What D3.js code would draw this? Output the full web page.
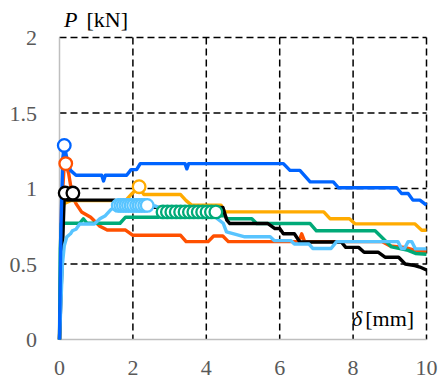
<!DOCTYPE html>
<html>
<head>
<meta charset="utf-8">
<script src="https://cdn.jsdelivr.net/npm/d3@7"></script>
<style>
  body { margin: 0; background: #fff; }
  svg { display: block; }
</style>
</head>
<body>
<figure id="chart" style="margin:0"></figure>
<script>
// tick values
const xTicks = [0, 2, 4, 6, 8, 10];
const yTicks = [0, 0.5, 1, 1.5, 2];
const yTickLabels = ["0", "0.5", "1", "1.5", "2"];

// load-displacement curves [delta mm, P kN]
const red = [[0,0],[0.06,0.9],[0.12,1.12],[0.17,1.165],[0.25,1.1],[0.35,0.95],[0.45,0.9],[0.6,0.845],[0.85,0.81],[1.1,0.75],[1.3,0.725],[1.8,0.725],[2.0,0.69],[3.3,0.69],[3.45,0.648],[4.05,0.648],[4.2,0.685],[4.45,0.685],[4.6,0.648],[6.52,0.648],[6.6,0.7],[6.68,0.648],[8.8,0.648],[9.0,0.62],[9.4,0.61],[9.7,0.59],[10,0.58]];
const orange = [[0,0],[0.06,0.8],[0.12,0.9],[0.3,0.92],[1.8,0.92],[1.95,0.96],[2.17,1.01],[2.3,0.96],[3.3,0.96],[3.45,0.92],[3.6,0.89],[4.4,0.89],[4.5,0.845],[7.2,0.845],[7.37,0.8],[7.9,0.8],[8.05,0.766],[9.68,0.766],[9.87,0.724],[10,0.724]];
const green = [[0,0],[0.02,0.6],[0.05,0.77],[0.55,0.77],[0.65,0.8],[0.75,0.77],[1.65,0.77],[1.8,0.81],[2.7,0.81],[2.8,0.82],[4.5,0.82],[4.56,0.8],[5.24,0.8],[5.37,0.768],[6.83,0.768],[7.0,0.72],[8.6,0.72],[9.05,0.613],[9.5,0.59],[9.7,0.57],[10,0.565]];
const black = [[0,0],[0.13,0.96],[0.2,0.923],[1.5,0.923],[1.6,0.875],[4.45,0.875],[4.56,0.79],[4.64,0.768],[5.68,0.768],[5.87,0.735],[6.0,0.735],[6.1,0.7],[6.4,0.7],[6.55,0.646],[7.68,0.646],[7.8,0.61],[8.15,0.61],[8.3,0.578],[8.68,0.578],[8.87,0.545],[9.24,0.545],[9.42,0.5],[9.68,0.49],[9.82,0.48],[10,0.46]];
const lightBlue = [[0,0],[0.08,0.5],[0.13,0.62],[0.2,0.68],[0.3,0.7],[0.35,0.72],[0.45,0.73],[0.55,0.765],[0.95,0.765],[1.1,0.8],[1.25,0.82],[1.4,0.86],[1.55,0.885],[2.6,0.885],[2.7,0.875],[4.15,0.875],[4.3,0.8],[4.46,0.77],[4.55,0.713],[5.05,0.68],[5.74,0.68],[5.85,0.655],[6.3,0.655],[6.4,0.632],[6.8,0.632],[6.9,0.603],[7.4,0.603],[7.55,0.648],[9.22,0.648],[9.32,0.603],[9.4,0.603],[9.5,0.648],[9.6,0.648],[9.7,0.6],[10,0.6]];
const blue = [[0,0],[0.04,0.75],[0.09,1.2],[0.13,1.285],[0.2,1.2],[0.3,1.12],[0.45,1.088],[1.15,1.088],[1.2,1.05],[1.25,1.088],[1.83,1.088],[1.95,1.125],[2.1,1.125],[2.2,1.165],[3.42,1.165],[3.47,1.13],[3.52,1.165],[6.1,1.165],[6.28,1.12],[6.55,1.12],[6.83,1.044],[7.46,1.044],[7.6,1.005],[9.19,1.005],[9.32,0.967],[9.5,0.967],[9.63,0.923],[9.82,0.923],[10,0.89]];

// circle markers on the curves
const blueMarks = [[0.13,1.285]];
const redMarks = [[0.17,1.165]];
const orangeMarks = [[2.17,1.012]];
const blackMarks = [[0.155,0.97],[0.365,0.97]];
const lightBlueMarks = [[1.6,0.888],[1.67,0.888],[1.74,0.888],[1.81,0.888],[1.88,0.888],[1.95,0.888],[2.02,0.888],[2.1,0.888],[2.17,0.888],[2.24,0.888],[2.32,0.888],[2.39,0.888]];
const greenMarks = [[2.82,0.845],[2.94,0.845],[3.06,0.845],[3.18,0.845],[3.3,0.845],[3.42,0.845],[3.54,0.845],[3.66,0.845],[3.78,0.845],[3.9,0.845],[4.02,0.845],[4.14,0.845],[4.26,0.845]];

const W = 444, H = 381;
const plotLeft = 59.5, plotRight = 426.5, plotTop = 37.5, plotBottom = 339.5;
const serif = '"Liberation Serif"';

const svg = d3.select("figure#chart")
  .append("svg")
  .attr("width", W)
  .attr("height", H);

const x = d3.scaleLinear().domain([0, 10]).range([plotLeft, plotRight]);
const y = d3.scaleLinear().domain([0, 2]).range([plotBottom, plotTop]);

// dashed grid
svg.append("g").selectAll("line")
  .data(yTicks.filter(d => d > 0))
  .enter().append("line")
  .attr("x1", plotLeft).attr("x2", plotRight)
  .attr("y1", d => y(d)).attr("y2", d => y(d))
  .attr("stroke", "#000").attr("stroke-width", 1.5)
  .attr("stroke-dasharray", "7,4");

svg.append("g").selectAll("line")
  .data(xTicks.filter(d => d > 0))
  .enter().append("line")
  .attr("x1", d => x(d)).attr("x2", d => x(d))
  .attr("y1", plotTop).attr("y2", plotBottom)
  .attr("stroke", "#000").attr("stroke-width", 1.5)
  .attr("stroke-dasharray", "7,4");

// grey axes
svg.append("line")
  .attr("x1", plotLeft).attr("x2", plotLeft).attr("y1", plotTop).attr("y2", plotBottom)
  .attr("stroke", "#bfbfbf").attr("stroke-width", 1.5);
svg.append("line")
  .attr("x1", plotLeft).attr("x2", plotRight).attr("y1", plotBottom).attr("y2", plotBottom)
  .attr("stroke", "#bfbfbf").attr("stroke-width", 1.5);

// tick labels
svg.append("g").selectAll("text")
  .data(yTicks)
  .enter().append("text")
  .attr("x", 37)
  .attr("y", d => y(d))
  .attr("dy", "0.35em")
  .attr("text-anchor", "end")
  .attr("font-size", 22)
  .style("font-family", serif)
  .attr("fill", "#595959")
  .text((d, i) => yTickLabels[i]);

svg.append("g").selectAll("text")
  .data(xTicks)
  .enter().append("text")
  .attr("x", d => x(d))
  .attr("y", 367)
  .attr("dy", "0.35em")
  .attr("text-anchor", "middle")
  .attr("font-size", 22)
  .style("font-family", serif)
  .attr("fill", "#595959")
  .text(d => d);

// axis titles
const pt = svg.append("text")
  .attr("x", 64).attr("y", 27)
  .attr("font-size", 22).style("font-family", serif).attr("fill", "#000");
pt.append("tspan").attr("font-style", "italic").text("P");
pt.append("tspan").attr("dx", 9).text("[kN]");

const dt = svg.append("text")
  .attr("x", 352).attr("y", 326)
  .attr("font-size", 22).style("font-family", serif).attr("fill", "#000");
dt.append("tspan").attr("font-style", "italic").text("δ");
dt.append("tspan").attr("dx", 3).text("[mm]");

// curves
const line = d3.line().x(d => x(d[0])).y(d => y(d[1]));
const series = [
  { data: red, color: "#ff5000", marks: redMarks },
  { data: orange, color: "#ffab00", marks: orangeMarks },
  { data: green, color: "#00aa78", marks: greenMarks },
  { data: black, color: "#000000", marks: blackMarks },
  { data: lightBlue, color: "#58c4ff", marks: lightBlueMarks },
  { data: blue, color: "#0064ff", marks: blueMarks }
];

series.forEach(s => {
  svg.append("path")
    .attr("d", line(s.data))
    .attr("fill", "none")
    .attr("stroke", s.color)
    .attr("stroke-width", 3.4)
    .attr("stroke-linejoin", "round");
});

series.forEach(s => {
  svg.append("g").selectAll("circle")
    .data(s.marks)
    .enter().append("circle")
    .attr("cx", d => x(d[0]))
    .attr("cy", d => y(d[1]))
    .attr("r", 6.3)
    .attr("fill", "#fff")
    .attr("stroke", s.color)
    .attr("stroke-width", 2.3);
});
</script>
</body>
</html>
